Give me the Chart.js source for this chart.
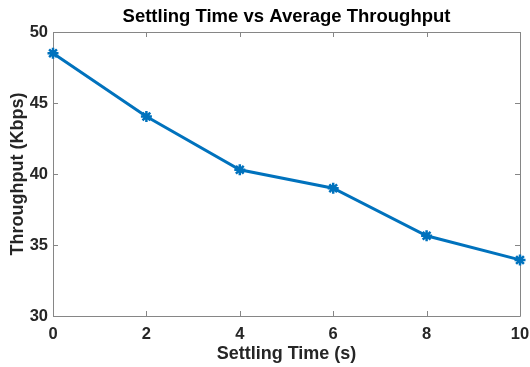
<!DOCTYPE html>
<html>
<head>
<meta charset="utf-8">
<script src="https://cdn.jsdelivr.net/npm/chart.js@4/dist/chart.umd.min.js"></script>
<style>
  html, body { margin: 0; padding: 0; background: #fff; }
  #wrap { width: 530px; height: 367px; }
</style>
</head>
<body>
<div id="wrap"><canvas id="throughputChart" width="530" height="367"></canvas></div>
<script>
//.. chart data
const settlingTimes = [0, 2, 4, 6, 8, 10];
const throughput = [48.5, 44.05, 40.3, 39.0, 35.65, 33.95];
const xTicks = [0, 2, 4, 6, 8, 10];
const yTicks = [30, 35, 40, 45, 50];

const chartTitle = 'Settling Time vs Average Throughput';
const xLabel = 'Settling Time (s)';
const yLabel = 'Throughput (Kbps)';

const FONT = '"Liberation Sans", Arial, Helvetica, sans-serif';
const AXIS_COLOR = '#868686';
const TEXT_COLOR = '#262626';

//.. box round the plot area, inward ticks and the title (matlab look)
const matlabAxes = {
    id: 'matlabAxes',
    beforeDatasetsDraw: function (chart) {
        const ctx = chart.ctx;
        const area = chart.chartArea;
        const x = chart.scales.x;
        const y = chart.scales.y;
        const len = 5;
        ctx.save();
        ctx.strokeStyle = AXIS_COLOR;
        ctx.lineWidth = 1;
        ctx.beginPath();
        ctx.rect(Math.round(area.left) + 0.5, Math.round(area.top) + 0.5,
            Math.round(area.right - area.left), Math.round(area.bottom - area.top));
        ctx.stroke();

        ctx.beginPath();
        xTicks.forEach(function (v) {
            const px = Math.round(x.getPixelForValue(v)) + 0.5;
            ctx.moveTo(px, area.bottom);
            ctx.lineTo(px, area.bottom - len);
            ctx.moveTo(px, area.top);
            ctx.lineTo(px, area.top + len);
        });
        yTicks.forEach(function (v) {
            const py = Math.round(y.getPixelForValue(v)) + 0.5;
            ctx.moveTo(area.left, py);
            ctx.lineTo(area.left + len, py);
            ctx.moveTo(area.right, py);
            ctx.lineTo(area.right - len, py);
        });
        ctx.stroke();
        ctx.restore();
    },
    afterDraw: function (chart) {
        const ctx = chart.ctx;
        const area = chart.chartArea;
        ctx.save();
        ctx.fillStyle = '#000';
        ctx.font = 'bold 18.5px ' + FONT;
        ctx.textAlign = 'center';
        ctx.textBaseline = 'middle';
        ctx.fillText(chartTitle, (area.left + area.right) / 2, 16.5);
        ctx.restore();
    }
};

const ctx = document.getElementById('throughputChart').getContext('2d');
const myChart = new Chart(ctx, {
    type: 'line',
    data: {
        datasets: [{
            data: settlingTimes.map(function (t, i) { return {x: t, y: throughput[i]}; }),
            borderColor: 'rgb(0,114,189)',
            backgroundColor: 'rgb(0,114,189)',
            borderWidth: 3,
            pointStyle: 'star',
            pointRadius: 5.5,
            pointBorderWidth: 2.5,
            pointBorderColor: 'rgb(0,114,189)',
            tension: 0,
            clip: false
        }]
    },
    options: {
        responsive: false,
        animation: false,
        layout: {padding: {left: 0, right: 10, top: 32, bottom: 0}},
        plugins: {
            legend: {display: false},
            tooltip: {enabled: false},
            title: {display: false}
        },
        scales: {
            x: {
                type: 'linear',
                min: 0,
                max: 10,
                afterBuildTicks: function (scale) {
                    scale.ticks = xTicks.map(function (v) { return {value: v}; });
                },
                afterFit: function (scale) {
                    scale.height = 51;
                    scale.paddingLeft = 0;
                    scale.paddingRight = 0;
                },
                grid: {display: false, drawTicks: false},
                border: {display: false},
                ticks: {
                    color: TEXT_COLOR,
                    padding: 9,
                    maxRotation: 0,
                    font: {family: FONT, size: 16.5, weight: 'bold'}
                },
                title: {
                    display: true,
                    text: xLabel,
                    color: TEXT_COLOR,
                    padding: {top: 0, bottom: 2},
                    font: {family: FONT, size: 18, weight: 'bold'}
                }
            },
            y: {
                min: 30,
                max: 50,
                afterBuildTicks: function (scale) {
                    scale.ticks = yTicks.map(function (v) { return {value: v}; });
                },
                afterFit: function (scale) {
                    scale.width = 53;
                    scale.paddingTop = 0;
                    scale.paddingBottom = 0;
                },
                grid: {display: false, drawTicks: false},
                border: {display: false},
                ticks: {
                    color: TEXT_COLOR,
                    padding: 5,
                    font: {family: FONT, size: 16.5, weight: 'bold'}
                },
                title: {
                    display: true,
                    text: yLabel,
                    color: TEXT_COLOR,
                    padding: {top: 7, bottom: 0},
                    font: {family: FONT, size: 18, weight: 'bold'}
                }
            }
        }
    },
    plugins: [matlabAxes]
});
</script>
</body>
</html>
